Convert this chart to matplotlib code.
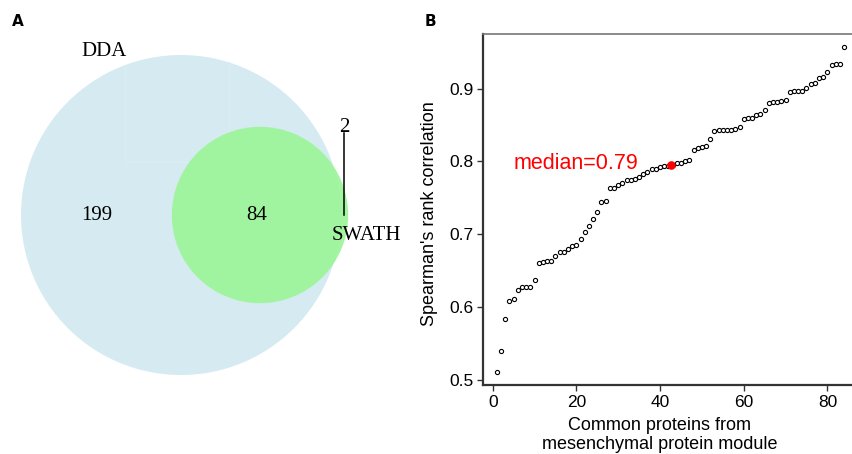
import numpy as np
import matplotlib
matplotlib.use("Agg")
import matplotlib.pyplot as plt
from matplotlib.patches import Circle

# ---------------- data ----------------
venn_sets = ["DDA", "SWATH"]
only_dda = 199
both = 84
only_swath = 2

rank_values = [
    0.511, 0.540, 0.584, 0.608, 0.611, 0.624, 0.627, 0.627, 0.628, 0.637,
    0.661, 0.662, 0.663, 0.663, 0.670, 0.676, 0.676, 0.680, 0.684, 0.685,
    0.693, 0.703, 0.711, 0.721, 0.730, 0.744, 0.745, 0.763, 0.764, 0.768,
    0.770, 0.774, 0.774, 0.776, 0.778, 0.783, 0.786, 0.790, 0.790, 0.793,
    0.794, 0.794, 0.795, 0.798, 0.798, 0.800, 0.802, 0.815, 0.818, 0.820,
    0.821, 0.831, 0.842, 0.843, 0.843, 0.843, 0.843, 0.845, 0.847, 0.858,
    0.859, 0.860, 0.863, 0.865, 0.871, 0.880, 0.881, 0.882, 0.883, 0.884,
    0.895, 0.896, 0.896, 0.896, 0.901, 0.906, 0.907, 0.915, 0.916, 0.923,
    0.932, 0.933, 0.934, 0.957,
]
x_ticks = [0, 20, 40, 60, 80]
y_ticks = [0.5, 0.6, 0.7, 0.8, 0.9]

W, H = 852, 454
fig = plt.figure(figsize=(W / 100, H / 100), dpi=100)

# ---------------- panel A: Venn ----------------
axA = fig.add_axes([0, 0, 426 / W, 1])
axA.set_xlim(0, 426)
axA.set_ylim(H, 0)
axA.axis("off")

total_dda = only_dda + both
total_swath = only_swath + both
r_big = 160.0
r_small = r_big * np.sqrt(total_swath / total_dda)
c_big = (181, 215)
c_small = (260, 215)

axA.add_patch(Circle(c_big, r_big, facecolor="#d6eaf1", edgecolor="none", zorder=1))
# very faint rendering seams visible in the original
seam = "#dcedf3"
axA.plot([125, 125], [66, 162], color=seam, lw=0.7, zorder=1.5)
axA.plot([229, 229], [62, 162], color=seam, lw=0.7, zorder=1.5)
axA.plot([125, 229], [162, 162], color=seam, lw=0.7, zorder=1.5)
axA.add_patch(Circle(c_small, r_small, facecolor="#9ef59b", edgecolor="none",
                     alpha=0.95, zorder=2))

serif = ["Liberation Serif", "DejaVu Serif"]
fs = 15
axA.text(104, 52, venn_sets[0], family=serif, fontsize=fs, ha="center", va="center", zorder=3)
axA.text(97, 215, str(only_dda), family=serif, fontsize=fs, ha="center", va="center", zorder=3)
axA.text(256.5, 215, str(both), family=serif, fontsize=fs, ha="center", va="center", zorder=3)
axA.text(344, 127, str(only_swath), family=serif, fontsize=fs, ha="center", va="center", zorder=3)
axA.plot([344.3, 344.3], [133, 215], color="black", lw=1.1, zorder=3)
axA.text(366.5, 235, venn_sets[1], family=serif, fontsize=fs, ha="center", va="center", zorder=3)

# panel labels
fig.text(18 / W, 1 - 22 / H, "A", fontsize=11, fontweight="bold",
         family="DejaVu Sans", ha="center", va="center")
fig.text(430.5 / W, 1 - 22 / H, "B", fontsize=11, fontweight="bold",
         family="DejaVu Sans", ha="center", va="center")

# ---------------- panel B: scatter ----------------
sans = ["Liberation Sans", "DejaVu Sans"]
left, right, top, bottom = 483, 858, 34, 385
axB = fig.add_axes([left / W, 1 - bottom / H, (right - left) / W, (bottom - top) / H])

idx = np.arange(1, len(rank_values) + 1)
vals = np.array(rank_values)
axB.plot(idx, vals, linestyle="none", marker="o", markersize=3.0,
         markerfacecolor="white", markeredgecolor="black", markeredgewidth=0.8)

med = np.median(vals)
med_x = (len(vals) + 1) / 2
axB.plot([med_x], [med], linestyle="none", marker="o", markersize=5.2,
         color="red", markeredgecolor="red")
axB.text(med_x - 7.8, med + 0.003, "median=%.2f" % (np.floor(med * 100) / 100), color="red",
         fontsize=15.5, family=sans, ha="right", va="center")

xr = idx.max() - idx.min()
yr = vals.max() - vals.min()
axB.set_xlim(idx.min() - 0.04 * xr, idx.max() + 0.04 * xr)
axB.set_ylim(vals.min() - 0.04 * yr, vals.max() + 0.04 * yr)
axB.set_xticks(x_ticks)
axB.set_yticks(y_ticks)
axB.set_xticklabels([str(t) for t in x_ticks], family=sans, fontsize=12.5)
axB.set_yticklabels([("%.1f" % t) for t in y_ticks], family=sans, fontsize=12.5)
axB.tick_params(direction="out", length=4, width=1, color="#333333", pad=3)

for s in ["left", "bottom"]:
    axB.spines[s].set_color("#333333")
    axB.spines[s].set_linewidth(1.6)
for s in ["top", "right"]:
    axB.spines[s].set_color("#777777")
    axB.spines[s].set_linewidth(1.2)

fig.text(430 / W, 1 - 214 / H, "Spearman's rank correlation", rotation=90,
         family=sans, fontsize=13, ha="center", va="center")
fig.text(660 / W, 1 - 435 / H, "Common proteins from\nmesenchymal protein module",
         family=sans, fontsize=13, ha="center", va="center", linespacing=1.12)

fig.savefig("out.png", dpi=100)
